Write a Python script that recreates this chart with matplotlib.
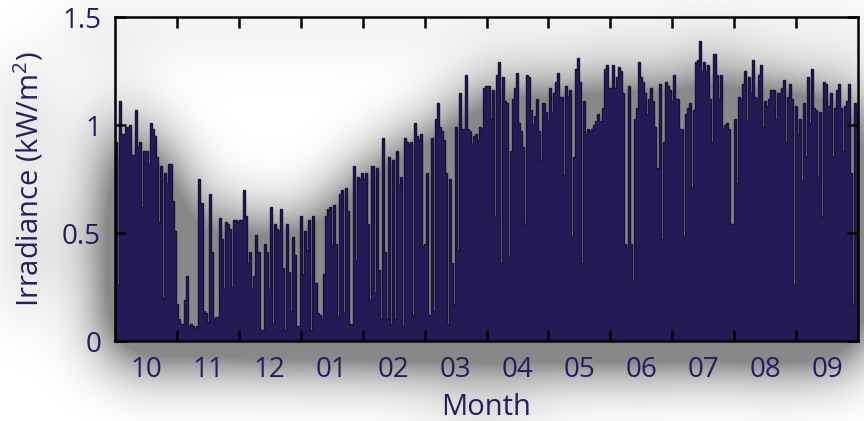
import numpy as np
import matplotlib
matplotlib.use("Agg")
import matplotlib.pyplot as plt
from matplotlib.ticker import FixedLocator, FixedFormatter, NullFormatter

# Daily peak irradiance (kW/m^2), one value per day, Oct -> Sep
oct_nov = [0.92, 0.26, 1.11, 0.96, 0.96, 0.99, 0.99, 1.00, 0.86, 0.86, 1.07, 0.90, 0.92, 0.62, 0.88,
           0.88, 0.82, 1.01, 0.98, 0.95, 0.85, 0.55, 0.81, 0.20, 0.78, 0.73, 0.82, 0.82, 0.65, 0.51,
           0.17, 0.10, 0.08, 0.08, 0.19, 0.30, 0.07, 0.08, 0.07, 0.06, 0.07, 0.75, 0.64, 0.14, 0.13,
           0.09, 0.68, 0.41, 0.10, 0.11, 0.11, 0.57, 0.47, 0.24, 0.55, 0.54, 0.52, 0.25, 0.56, 0.56,
           0.55]
dec_jan = [0.56, 0.56, 0.70, 0.58, 0.36, 0.41, 0.24, 0.30, 0.49, 0.41, 0.05, 0.05, 0.45, 0.41, 0.24,
           0.62, 0.08, 0.54, 0.52, 0.51, 0.61, 0.34, 0.05, 0.54, 0.32, 0.14, 0.48, 0.40, 0.07, 0.07,
           0.58, 0.31, 0.51, 0.42, 0.56, 0.05, 0.58, 0.27, 0.13, 0.12, 0.10, 0.31, 0.58, 0.61, 0.62,
           0.44, 0.63, 0.45, 0.11, 0.68, 0.70, 0.13, 0.71, 0.60, 0.08, 0.08, 0.81, 0.37, 0.76, 0.75,
           0.78]
feb_mar = [0.75, 0.78, 0.54, 0.19, 0.81, 0.22, 0.80, 0.33, 0.10, 0.94, 0.41, 0.10, 0.85, 0.08, 0.84,
           0.10, 0.88, 0.72, 0.76, 0.07, 0.94, 0.92, 0.91, 0.92, 0.12, 1.01, 0.95, 0.93, 0.96, 0.44,
           0.45, 0.78, 0.12, 0.94, 0.14, 1.03, 1.10, 0.99, 0.97, 0.93, 0.78, 0.08, 0.75, 0.36, 0.17,
           0.99, 0.42, 1.15, 0.98, 0.98, 1.23, 0.98, 0.97, 0.91, 0.95, 0.96, 0.93, 0.99, 0.98, 1.17,
           1.18]
apr_may = [1.18, 1.03, 1.16, 0.58, 1.23, 1.29, 0.36, 1.22, 1.11, 1.10, 0.39, 0.88, 1.12, 1.17, 1.24,
           1.01, 0.97, 0.90, 0.54, 1.23, 1.22, 1.07, 1.00, 1.04, 1.12, 0.97, 0.84, 1.10, 1.06, 1.02,
           1.17, 1.06, 1.15, 1.20, 1.24, 1.13, 1.13, 0.77, 1.18, 1.13, 1.16, 0.48, 0.85, 1.26, 1.31,
           1.20, 0.36, 1.11, 0.96, 0.98, 0.97, 0.98, 1.00, 1.02, 1.05, 1.02, 1.08, 1.26, 1.28, 1.17,
           1.17]
jun_jul = [1.28, 1.17, 1.22, 1.27, 1.25, 1.15, 0.45, 0.44, 1.18, 0.45, 0.28, 1.03, 1.08, 1.29, 1.22,
           1.20, 1.15, 1.05, 1.12, 1.17, 1.11, 0.99, 0.80, 1.19, 0.47, 0.92, 1.20, 1.18, 1.16, 1.11,
           1.23, 1.12, 1.12, 0.98, 0.98, 0.48, 1.05, 1.08, 1.10, 0.71, 1.07, 1.29, 1.30, 1.39, 1.25,
           1.29, 1.25, 1.28, 1.12, 0.92, 1.33, 1.23, 1.12, 1.23, 0.98, 1.00, 1.01, 0.98, 0.54, 0.54,
           1.03]
aug_sep = [0.73, 1.13, 1.12, 1.19, 1.25, 1.02, 1.22, 1.15, 1.30, 1.13, 1.12, 1.23, 1.28, 0.99, 1.11,
           1.09, 1.12, 1.16, 1.16, 1.03, 1.15, 1.15, 1.17, 1.21, 0.92, 1.13, 1.19, 1.12, 0.26, 1.09,
           0.96, 1.03, 0.74, 1.10, 0.85, 1.22, 1.01, 1.26, 1.08, 1.07, 0.76, 1.06, 0.58, 1.20, 1.19,
           1.09, 1.15, 0.85, 1.08, 1.16, 1.19, 1.08, 0.88, 1.09, 1.11, 1.19, 0.78, 0.17, 1.10, 1.05]

month_labels = ["10", "11", "12", "01", "02", "03", "04", "05", "06", "07", "08", "09"]
y_ticks = [0, 0.5, 1, 1.5]
y_tick_labels = ["0", "0.5", "1", "1.5"]

daily_peak = np.concatenate([oct_nov, dec_jan, feb_mar, apr_may, jun_jul, aug_sep])
n_days = len(daily_peak)
day_edges = np.arange(n_days + 1)

NAVY = "#221b56"
NAVY_EDGE = "#17113c"
TEXT = "#231e5e"

plt.rcParams["font.family"] = ["Open Sans", "DejaVu Sans"]
plt.rcParams["mathtext.default"] = "regular"

fig = plt.figure(figsize=(8.64, 4.21), dpi=100)
fig.patch.set_alpha(0)
ax = fig.add_axes([115 / 864, 80 / 421, 743 / 864, 324 / 421])
ax.patch.set_alpha(0)

ax.bar(day_edges[:-1], daily_peak, width=1.0, align="edge", color=NAVY, linewidth=0)
ax.stairs(daily_peak, day_edges, color=NAVY_EDGE, linewidth=1.0, baseline=None)

ax.set_xlim(0, n_days)
ax.set_ylim(0, 1.5)

month_w = n_days / 12
ax.xaxis.set_major_locator(FixedLocator([month_w * k for k in range(1, 12)]))
ax.xaxis.set_major_formatter(NullFormatter())
ax.xaxis.set_minor_locator(FixedLocator([month_w * (k + 0.5) for k in range(12)]))
ax.xaxis.set_minor_formatter(FixedFormatter(month_labels))
ax.set_yticks(y_ticks)
ax.set_yticklabels(y_tick_labels)

ax.tick_params(which="major", direction="in", length=8, width=1.8, color="black",
               top=True, right=True, labelsize=20, labelcolor=TEXT, pad=10)
ax.tick_params(axis="x", which="minor", length=0, labelsize=20, labelcolor=TEXT, pad=11)
for s in ax.spines.values():
    s.set_linewidth(1.8)
    s.set_color("black")

ax.set_xlabel("Month", fontsize=21, color=TEXT)
ax.set_ylabel("Irradiance (kW/m$^2$)", fontsize=21, color=TEXT)
ax.xaxis.set_label_coords(0.5, -0.161)
ax.yaxis.set_label_coords(-0.094, 0.5)

# Soft drop shadow: blur the coverage of everything drawn, shift it down,
# saturate it and put it underneath the chart
fig.canvas.draw()
alpha = np.asarray(fig.canvas.buffer_rgba()).astype(float)[..., 3] / 255.0
H, W = alpha.shape
dy = 8
shifted = np.zeros_like(alpha)
shifted[dy:, :] = alpha[:-dy, :]


def gauss_matrix(n, sigma):
    idx = np.arange(n)
    g = np.exp(-0.5 * ((idx[:, None] - idx[None, :]) / sigma) ** 2)
    return g / (sigma * np.sqrt(2 * np.pi))


sigma = 30
blur = gauss_matrix(H, sigma) @ shifted @ gauss_matrix(W, sigma).T
shadow = np.zeros((H, W, 4))
shadow[..., 3] = 0.47 * np.clip(2.5 * blur, 0, 1)

fig.patch.set_facecolor("white")
fig.patch.set_alpha(1)
fig.figimage(shadow, xo=0, yo=0, origin="upper", zorder=-1)

fig.savefig("out.png", dpi=100)
